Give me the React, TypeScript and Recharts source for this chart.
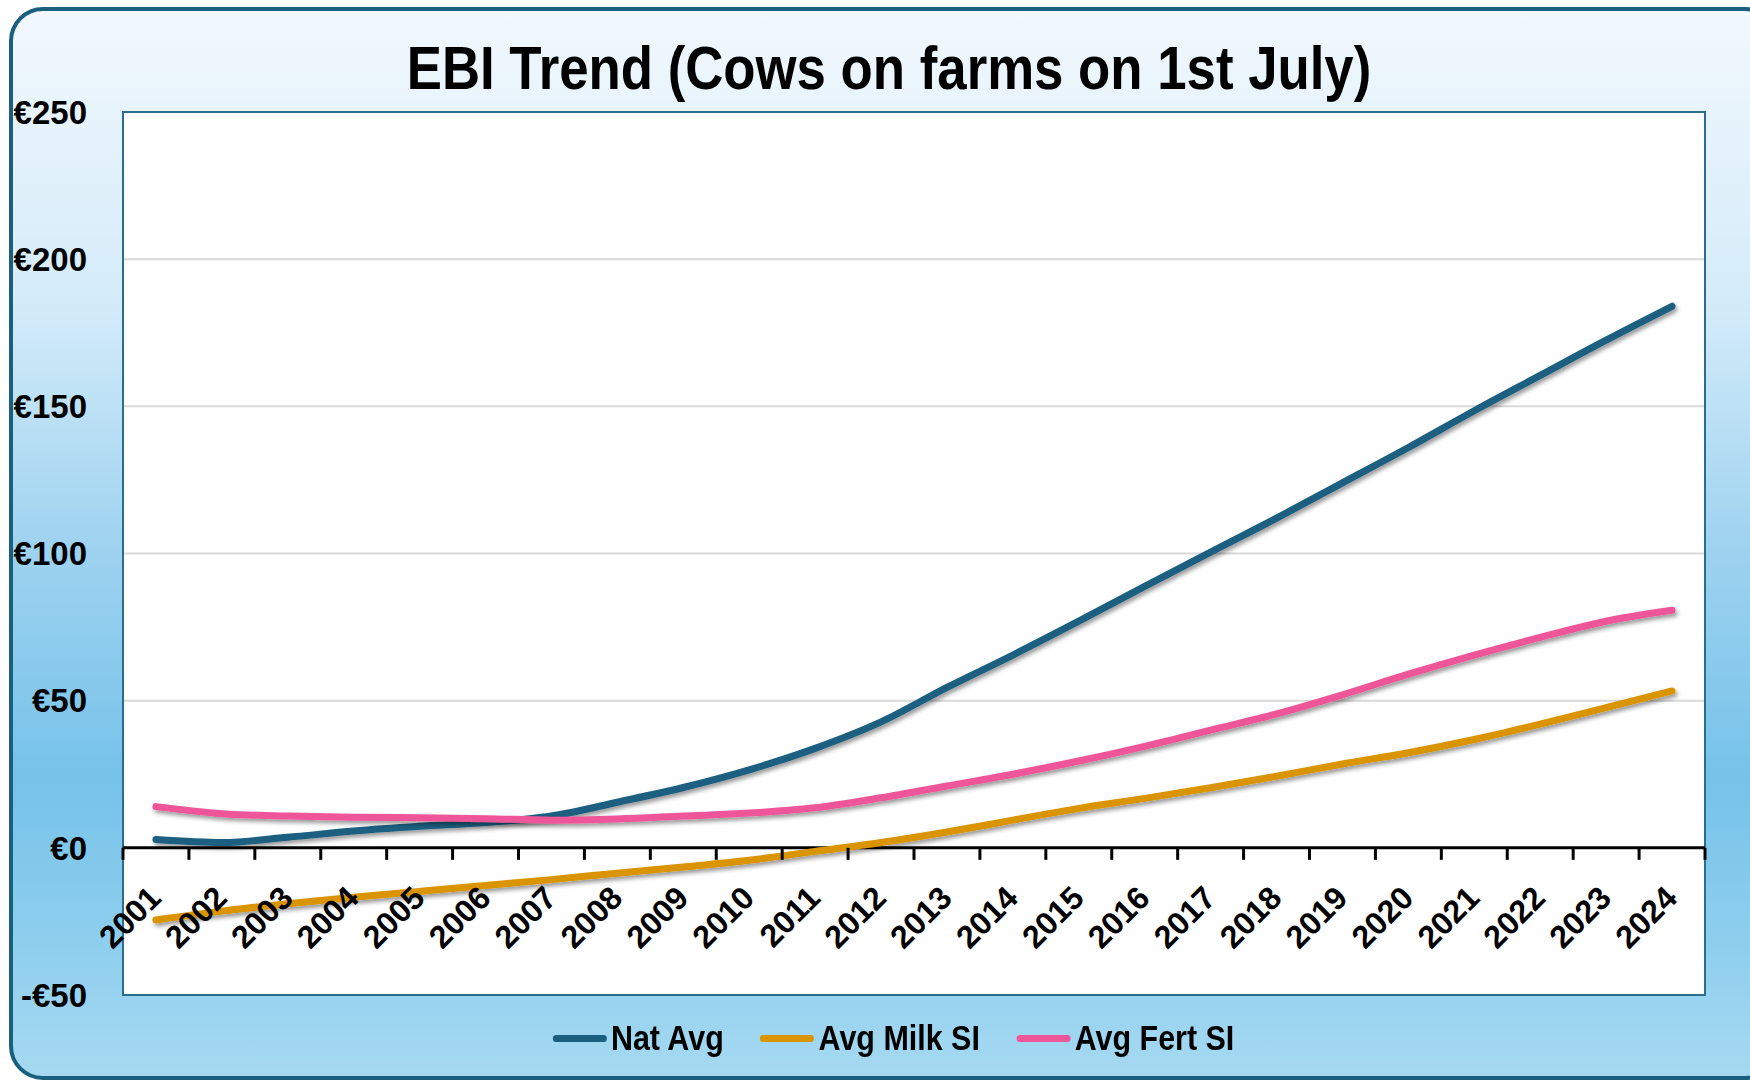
import React from 'react';
import {
  LineChart, Line, XAxis, YAxis, CartesianGrid, Legend, ReferenceLine, ReferenceDot, ReferenceArea,
} from 'recharts';

const years = [2001, 2002, 2003, 2004, 2005, 2006, 2007, 2008, 2009, 2010, 2011, 2012,
  2013, 2014, 2015, 2016, 2017, 2018, 2019, 2020, 2021, 2022, 2023, 2024];

const natAvg = [2.8, 1.8, 3.6, 5.7, 7.3, 8.6, 10.8, 15.5, 20.5, 26.5, 33.8, 42.8,
  54.5, 65.5, 77, 88.8, 100.5, 112, 124, 136, 148.5, 160.5, 172.5, 184];
const milkSI = [-24.5, -21.5, -19, -16.8, -14.8, -12.8, -10.8, -8.6, -6.5, -4.2, -1.2, 1.8,
  5.4, 9.4, 13.4, 16.8, 20.4, 24.3, 28.5, 32.3, 36.8, 42, 47.6, 53.3];
const fertSI = [14, 11.6, 10.8, 10.4, 10.2, 9.9, 9.4, 9.8, 10.8, 11.8, 13.6, 17,
  21, 25, 29.5, 34.5, 40, 45.5, 52, 59, 65.5, 71.5, 77, 80.7];

const yTicks = [-50, 0, 50, 100, 150, 200, 250];

const series = [
  { key: 'nat', name: 'Nat Avg', color: '#1a5e80' },
  { key: 'milk', name: 'Avg Milk SI', color: '#d99400' },
  { key: 'fert', name: 'Avg Fert SI', color: '#ef569a' },
];

const data = years.map((year, i) => ({
  year,
  nat: natAvg[i],
  milk: milkSI[i],
  fert: fertSI[i],
}));

// tick marks sit between the years, like Excel's "between tick marks"
const bounds = [...years.map((y) => y - 0.5), years[years.length - 1] + 0.5];

// no narrow face installed, so the narrow texts are squeezed with scaleX
const font = "'Liberation Sans', Arial, sans-serif";

const euro = (v: number) => (v < 0 ? `-€${-v}` : `€${v}`);

const order = (name: string) => series.findIndex((s) => s.name === name);

const LegendContent = ({ payload }: any) => {
  const items = [...(payload || [])].sort((a: any, b: any) => order(a.value) - order(b.value));
  return (
    <div
      style={{
        width: 1787, display: 'flex', justifyContent: 'center', gap: 42,
        transform: 'scaleX(0.87)', transformOrigin: '50% 50%',
      }}
    >
      {items.map((p: any) => (
        <div key={p.value} style={{ display: 'flex', alignItems: 'center' }}>
          <div style={{ width: 62, height: 7, borderRadius: 4, background: p.color, marginRight: 5 }} />
          <span style={{ fontFamily: font, fontWeight: 700, fontSize: 35, lineHeight: '36px', color: '#000' }}>
            {p.value}
          </span>
        </div>
      ))}
    </div>
  );
};

export default function App() {
  return (
    <div style={{ position: 'absolute', left: 0, top: 0, width: 1750, height: 1082, overflow: 'hidden' }}>
      <div
        style={{
          position: 'absolute', left: 9, top: 7, width: 1770, height: 1073, boxSizing: 'border-box',
          border: '4px solid #1b5f7f', borderRadius: 34,
          background: 'linear-gradient(to bottom, #f2f8fd 0%, #d3ebf9 28%, #9fd3f0 50%, #76c2e9 72%, #8fcfee 88%, #a6d9f1 100%)',
        }}
      />
      <div
        style={{
          position: 'absolute', left: 0, top: 38, width: 1778, textAlign: 'center',
          fontFamily: font, fontWeight: 700, fontSize: 61, lineHeight: '61px', color: '#000',
          transform: 'scaleX(0.865)', transformOrigin: '50% 50%', whiteSpace: 'nowrap',
        }}
      >
        EBI Trend (Cows on farms on 1st July)
      </div>
      <LineChart
        width={1750}
        height={1082}
        data={data}
        margin={{ top: 112, right: 45, left: 0, bottom: 87 }}
        style={{ position: 'absolute', left: 0, top: 0 }}
      >
        <defs>
          <filter id="lineShadow" x="-5%" y="-20%" width="110%" height="140%">
            <feDropShadow dx="2" dy="3" stdDeviation="2" floodColor="#000" floodOpacity="0.4" />
          </filter>
        </defs>
        <CartesianGrid vertical={false} stroke="#d9d9d9" strokeWidth={2} fill="#fff" />
        <XAxis
          dataKey="year"
          type="number"
          domain={[2000.5, 2024.5]}
          allowDataOverflow
          hide
        />
        <YAxis
          type="number"
          domain={[-50, 250]}
          ticks={yTicks}
          allowDataOverflow
          width={123}
          axisLine={false}
          tickLine={false}
          tickSize={0}
          tickMargin={36}
          tickFormatter={euro}
          tick={{ fill: '#000', fontFamily: font, fontWeight: 700, fontSize: 33 }}
        />
        <ReferenceArea
          x1={2000.5}
          x2={2024.5}
          y1={-50}
          y2={250}
          fill="none"
          stroke="#2a6e8e"
          strokeWidth={2}
          ifOverflow="visible"
        />
        <ReferenceLine y={0} stroke="#000" strokeWidth={3} />
        {bounds.map((b) => (
          <ReferenceDot
            key={`b-${b}`}
            x={b}
            y={0}
            r={0}
            ifOverflow="visible"
            shape={(p: any) => (
              <line x1={p.cx} y1={p.cy} x2={p.cx} y2={p.cy + 12} stroke="#000" strokeWidth={3} />
            )}
          />
        ))}
        {years.map((yr) => (
          <ReferenceDot
            key={`y-${yr}`}
            x={yr}
            y={0}
            r={0}
            ifOverflow="visible"
            shape={(p: any) => (
              <text
                x={p.cx + 7}
                y={p.cy + 52}
                transform={`rotate(-45 ${p.cx + 7} ${p.cy + 52})`}
                textAnchor="end"
                fill="#000"
                fontFamily={font}
                fontWeight={700}
                fontSize={32}
              >
                {yr}
              </text>
            )}
          />
        ))}
        {series.map((s) => (
          <Line
            key={s.key}
            dataKey={s.key}
            name={s.name}
            type="monotone"
            stroke={s.color}
            strokeWidth={7}
            strokeLinecap="round"
            dot={false}
            activeDot={false}
            filter="url(#lineShadow)"
            isAnimationActive={false}
          />
        ))}
        <Legend
          layout="horizontal"
          verticalAlign="middle"
          align="center"
          content={<LegendContent />}
          wrapperStyle={{ top: 1020, left: 0, width: 1787 }}
        />
      </LineChart>
    </div>
  );
}
